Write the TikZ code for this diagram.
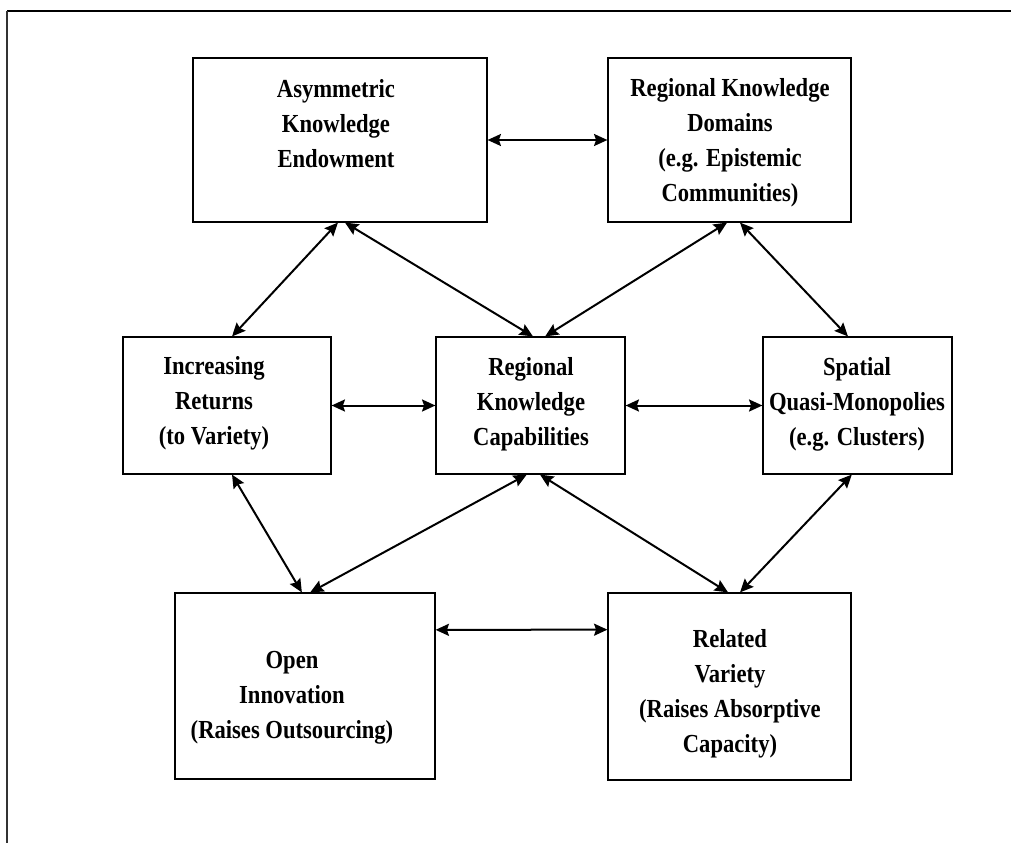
\documentclass[tikz,border=0pt]{standalone}
\usepackage{fontspec}
\setmainfont{Liberation Serif}[FakeStretch=0.87]
\usetikzlibrary{arrows.meta,calc}

\begin{document}
\begin{tikzpicture}[x=0.75pt,y=-0.75pt,
  >={Stealth[length=10pt,width=9pt,inset=1.5pt]},
  box/.style={draw=black,line width=0.9pt,inner sep=0pt},
  txt/.style={anchor=north,inner sep=0pt,align=center,
    font=\fontsize{19.5pt}{26.25pt}\selectfont\bfseries},
  conn/.style={<->,line width=1.5pt},
  frameline/.style={line width=1.5pt}]

\useasboundingbox (0,0) rectangle (1011,843);

% outer frame (top and left edges)
\draw[frameline,black] (7,11) -- (1011,11);
\draw[line width=1.3pt,black!80] (7,11) -- (7,843);

% boxes
\node[box,minimum width=294*0.75pt,minimum height=164*0.75pt] (A) at (340,140) {};
\node[box,minimum width=243*0.75pt,minimum height=164*0.75pt] (D) at (729.5,140) {};
\node[box,minimum width=208*0.75pt,minimum height=137*0.75pt] (I) at (227,405.5) {};
\node[box,minimum width=189*0.75pt,minimum height=137*0.75pt] (C) at (530.5,405.5) {};
\node[box,minimum width=189*0.75pt,minimum height=137*0.75pt] (S) at (857.5,405.5) {};
\node[box,minimum width=260*0.75pt,minimum height=186*0.75pt] (O) at (305,686) {};
\node[box,minimum width=243*0.75pt,minimum height=187*0.75pt] (R) at (729.5,686.5) {};

% labels
\node[txt] (tA) at (336,72.5) {\strut Asymmetric\\Knowledge\\Endowment};
\node[txt] (tD) at (730,71.5) {\strut Regional Knowledge\\Domains\\(e.g. Epistemic\\Communities)};
\node[txt] (tI) at (214,349.5) {\strut Increasing\\Returns\\(to Variety)};
\node[txt] (tC) at (531,350.5) {\strut Regional\\Knowledge\\Capabilities};
\node[txt] (tS) at (857,350.5) {\strut Spatial\\Quasi-Monopolies\\(e.g. Clusters)};
\node[txt] (tO) at (292,643.5) {\strut Open\\Innovation\\(Raises Outsourcing)};
\node[txt] (tR) at (730,622.5) {\strut Related\\Variety\\(Raises Absorptive\\Capacity)};

% connectors
\draw[conn] (A.east) -- (D.west);
\draw[conn] ($(A.south west)!0.493!(A.south east)$) -- ($(I.north west)!0.524!(I.north east)$);
\draw[conn] ($(A.south west)!0.517!(A.south east)$) -- ($(C.north west)!0.513!(C.north east)$);
\draw[conn] ($(D.south west)!0.490!(D.south east)$) -- ($(C.north west)!0.577!(C.north east)$);
\draw[conn] ($(D.south west)!0.543!(D.south east)$) -- ($(S.north west)!0.450!(S.north east)$);
\draw[conn] (I.east) -- (C.west);
\draw[conn] (C.east) -- (S.west);
\draw[conn] ($(I.south west)!0.524!(I.south east)$) -- ($(O.north west)!0.488!(O.north east)$);
\draw[conn] ($(C.south west)!0.480!(C.south east)$) -- ($(O.north west)!0.520!(O.north east)$);
\draw[conn] ($(C.south west)!0.550!(C.south east)$) -- ($(R.north west)!0.494!(R.north east)$);
\draw[conn] ($(S.south west)!0.470!(S.south east)$) -- ($(R.north west)!0.543!(R.north east)$);
\draw[conn] ($(O.north east)!0.2!(O.south east)$) -- ($(R.north west)!0.198!(R.south west)$);

\end{tikzpicture}
\end{document}
